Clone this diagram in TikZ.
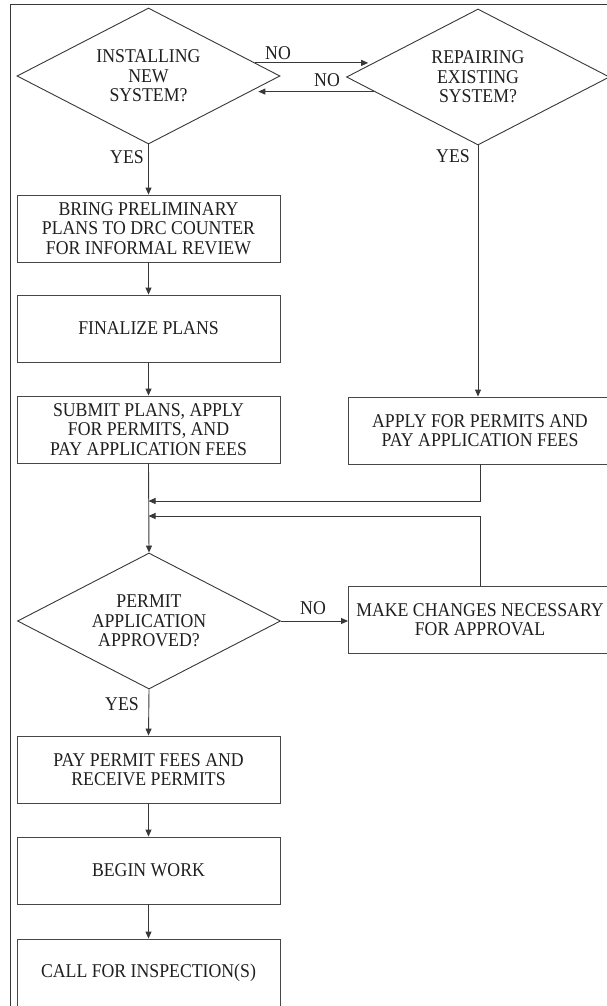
\documentclass[tikz,border=0pt]{standalone}
\usepackage{fontspec}
\setmainfont{Liberation Serif}[FakeStretch=0.91]
\usetikzlibrary{shapes.geometric,arrows.meta}
\begin{document}
\begin{tikzpicture}[x=1pt,y=-1pt,
  every node/.style={font=\fontsize{19.5}{19.5}\selectfont, text=black!88},
  flowbox/.style={draw=black!72, line width=0.9pt, minimum width=263pt, minimum height=67pt, inner sep=0pt, align=center},
  decision/.style={draw=black!78, line width=0.9pt, diamond, aspect=1.93, minimum width=263pt, minimum height=136pt, inner sep=0pt, align=center},
  conn/.style={draw=black!78, line width=0.9pt, -{Triangle[length=7pt,width=6pt]}},
  lbl/.style={inner sep=0pt}]
\useasboundingbox (0,0) rectangle (607,1006);
\clip (0,0) rectangle (607,1006);
\fill[white] (0,0) rectangle (607,1006);
\draw[black!78, line width=1.6pt] (10.5,4.5) rectangle (700,1100);

\node[decision] (d1) at (148.5,76) {INSTALLING\\NEW\\SYSTEM?};
\node[decision] (d2) at (478,77) {REPAIRING\\EXISTING\\SYSTEM?};
\node[flowbox] (b1) at (148.5,228.5) {BRING PRELIMINARY\\PLANS TO DRC COUNTER\\FOR INFORMAL REVIEW};
\node[flowbox] (b2) at (148.5,328.5) {FINALIZE PLANS};
\node[flowbox] (b3) at (148.5,429.5) {SUBMIT PLANS, APPLY\\FOR PERMITS, AND\\PAY APPLICATION FEES};
\node[flowbox] (r1) at (480,430.5) {APPLY FOR PERMITS AND\\PAY APPLICATION FEES};
\node[decision] (d3) at (149,621) {PERMIT\\APPLICATION\\APPROVED?};
\node[flowbox] (mk) at (480,619.5) {MAKE CHANGES NECESSARY\\FOR APPROVAL};
\node[flowbox] (pay) at (148.5,769.5) {PAY PERMIT FEES AND\\RECEIVE PERMITS};
\node[flowbox] (bw) at (148.5,870.5) {BEGIN WORK};
\node[flowbox] (cf) at (148.5,972.5) {CALL FOR INSPECTION(S)};

\node[lbl] (no1) at (278,53) {NO};
\node[lbl] (no2) at (327,80) {NO};
\node[lbl] (yes1) at (127,157) {YES};
\node[lbl] (yes2) at (453,156) {YES};
\node[lbl] (no3) at (313,608) {NO};
\node[lbl] (yes3) at (122,704) {YES};

\coordinate (j1) at (148.5,501);
\coordinate (j2) at (148.5,516);

\draw[conn, shorten >=6pt] (d1.7) -- (d1.7 -| d2.172);
\draw[conn, shorten >=6pt] (d2.188) -- (d2.188 -| d1.-8);
\draw[conn] (d1.south) -- (b1.north);
\draw[conn] (b1.south) -- (b2.north);
\draw[conn] (b2.south) -- (b3.north);
\draw[conn] (d2.south) -- (d2.south |- r1.north);
\draw[conn] (b3.south) -- (d3.north);
\draw[conn] (r1.south) |- (j1);
\draw[conn] (mk.north) |- (j2);
\draw[conn] (d3.east) -- (d3.east -| mk.west);
\draw[conn] (d3.south) -- (pay.north);
\draw[conn] (pay.south) -- (bw.north);
\draw[conn] (bw.south) -- (cf.north);
\end{tikzpicture}
\end{document}
